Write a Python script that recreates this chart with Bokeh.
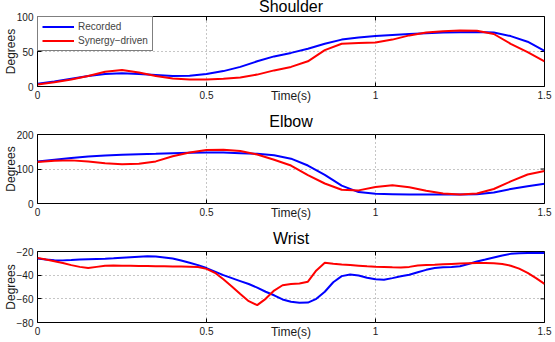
import math
from bokeh.plotting import figure
from bokeh.layouts import column
from bokeh.models import Range1d, FixedTicker, Legend, LegendItem
from bokeh.embed import file_html
from bokeh.resources import INLINE

# ---- joint angle trajectories (degrees) ----
time_a = [0.00, 0.05, 0.10, 0.15, 0.20, 0.25, 0.30, 0.35, 0.40, 0.45,
          0.50, 0.55, 0.60, 0.65, 0.70, 0.75, 0.80, 0.85, 0.90, 0.95,
          1.00, 1.05, 1.10, 1.15, 1.20, 1.25, 1.30, 1.35, 1.40, 1.45, 1.50]

shoulder_recorded = [4, 7, 11, 15, 18, 19, 18, 16.5, 15, 15.5,
                     18, 22, 28, 36, 43, 48, 54, 61, 67, 70,
                     72, 73.5, 75, 76, 77, 77.5, 78, 77, 72, 64, 51]
shoulder_synergy = [3, 6, 10, 15, 21, 23.5, 20, 15, 11.5, 10,
                    10, 11, 13, 17, 23, 28, 36, 52, 61, 62,
                    63, 67, 73, 77, 79, 80, 79.5, 75, 61, 49, 36]

elbow_recorded = [122, 127, 132, 136, 139, 141, 143, 144, 145.5, 147,
                  148, 147.5, 146, 144, 140, 130, 110, 83, 52, 33,
                  28, 27, 26, 26, 26, 26, 27, 32, 42, 50, 57]
elbow_synergy = [120, 124, 125, 122, 117, 114, 115, 122, 137, 148,
                 155, 156, 152, 142, 127, 110, 82, 58, 40, 38,
                 48, 53, 47, 37, 29, 26, 29, 42, 64, 84, 94]

time_b = [0.000, 0.025, 0.050, 0.075, 0.100, 0.125, 0.150, 0.175, 0.200, 0.225,
          0.250, 0.275, 0.300, 0.325, 0.350, 0.375, 0.400, 0.425, 0.450, 0.475,
          0.500, 0.525, 0.550, 0.575, 0.600, 0.625, 0.650, 0.675, 0.700, 0.725,
          0.750, 0.775, 0.800, 0.825, 0.850, 0.875, 0.900, 0.925, 0.950, 0.975,
          1.000, 1.025, 1.050, 1.075, 1.100, 1.125, 1.150, 1.175, 1.200, 1.225,
          1.250, 1.275, 1.300, 1.325, 1.350, 1.375, 1.400, 1.425, 1.450, 1.475,
          1.500]

wrist_recorded = [-26, -26.8, -27.3, -27.5, -27.2, -26.8, -26.5, -26.3, -26.2, -25.8,
                  -25.3, -24.8, -24.4, -24, -24.3, -25, -26, -27.6, -29.5, -31.5,
                  -34, -37, -40, -42.5, -45, -47.5, -50.5, -54, -57, -60.5,
                  -62.5, -63.4, -63.2, -60, -54, -46, -40.8, -39.5, -40.3, -42.2,
                  -43.5, -43.9, -42.5, -41, -39.7, -37.5, -35.5, -34, -33.3, -33,
                  -32.5, -30.5, -28.5, -26.8, -25, -23.3, -22, -21.5, -21.2, -21,
                  -21.3]
wrist_synergy = [-25.4, -26.8, -28.2, -29.8, -31.5, -33, -34, -33, -32, -31.8,
                 -32, -32.1, -32.2, -32.3, -32.4, -32.5, -32.6, -32.7, -32.9, -33.1,
                 -34.7, -38, -43.5, -49.5, -56, -62, -65.3, -60, -53, -48.5,
                 -47.5, -47, -45.5, -36, -29.5, -30.3, -31, -31.5, -32, -32.5,
                 -32.8, -33, -33.3, -33.5, -33, -31.8, -31.5, -31.2, -30.8, -30.5,
                 -30.2, -30, -29.8, -29.8, -30, -30.5, -32, -34.5, -38, -42.5,
                 -47.3]

# ---- axis ticks ----
x_ticks = [0, 0.5, 1, 1.5]
x_tick_labels = ["0", "0.5", "1", "1.5"]
shoulder_ticks = [0, 50, 100]
shoulder_tick_labels = ["0", "50", "100"]
elbow_ticks = [0, 100, 200]
elbow_tick_labels = ["0", "100", "200"]
wrist_ticks = [-80, -60, -40, -20]
wrist_tick_labels = ["\u221280", "\u221260", "\u221240", "\u221220"]

series_names = ["Recorded", "Synergy\u2212driven"]
series_colors = ["#0000ff", "#ff0000"]

FONT = "Liberation Sans"


def panel(height, top, bottom, y_lo, y_hi, yticks, ylabels, title,
          t, recorded, synergy, legend=False, margin=(0, 0, 0, 0),
          title_standoff=10):
    p = figure(width=555, height=height, output_backend="svg",
               toolbar_location=None, margin=margin,
               x_range=Range1d(0, 1.5), y_range=Range1d(y_lo, y_hi),
               min_border_left=37, min_border_right=11,
               min_border_top=top, min_border_bottom=bottom,
               background_fill_color="white", border_fill_color="white",
               outline_line_color="black", outline_line_width=1)

    p.title.text = title
    p.title.align = "center"
    p.title.text_font = FONT
    p.title.text_font_size = "16px"
    p.title.text_font_style = "normal"
    p.title.text_color = "black"
    p.title.standoff = title_standoff

    xa = p.xaxis[0]
    xa.ticker = FixedTicker(ticks=x_ticks)
    xa.major_label_overrides = dict(zip(x_ticks, x_tick_labels))
    xa.axis_label = "Time(s)"
    xa.axis_label_standoff = -13

    ya = p.yaxis[0]
    ya.ticker = FixedTicker(ticks=yticks)
    ya.major_label_overrides = dict(zip(yticks, ylabels))
    ya.axis_label = "Degrees"
    ya.axis_label_standoff = -4

    for ax in (xa, ya):
        ax.axis_line_color = None
        ax.major_tick_in = 4
        ax.major_tick_out = 0
        ax.major_tick_line_color = "black"
        ax.minor_tick_line_color = None
        ax.major_label_text_font = FONT
        ax.major_label_text_font_size = "10px"
        ax.major_label_text_color = "#1a1a1a"
        ax.major_label_standoff = 4
        ax.axis_label_text_font = FONT
        ax.axis_label_text_font_size = "12px"
        ax.axis_label_text_font_style = "normal"
        ax.axis_label_text_color = "#1a1a1a"

    p.xgrid.ticker = FixedTicker(ticks=x_ticks)
    p.ygrid.ticker = FixedTicker(ticks=yticks)
    for g in (p.xgrid, p.ygrid):
        g.grid_line_color = "#8c8c8c"
        g.grid_line_dash = "1 3"
        g.grid_line_width = 1

    # inward tick marks on the top and right edges of the box
    # (dashes centred on the edge; the frame clips their outer half)
    p.scatter(x_ticks, [y_hi] * len(x_ticks), marker="dash", size=8,
              angle=math.pi / 2, line_color="black", line_width=1)
    p.scatter([1.5] * len(yticks), yticks, marker="dash", size=8,
              line_color="black", line_width=1)

    r1 = p.line(t, recorded, line_color=series_colors[0], line_width=2)
    r2 = p.line(t, synergy, line_color=series_colors[1], line_width=2)

    if legend:
        lg = Legend(items=[LegendItem(label=series_names[0], renderers=[r1]),
                           LegendItem(label=series_names[1], renderers=[r2])],
                    location="top_left", margin=0, padding=4, spacing=3,
                    glyph_width=32, glyph_height=11, label_height=11,
                    label_standoff=4, label_text_font=FONT,
                    label_text_font_size="10px",
                    border_line_color="black", border_line_width=1,
                    background_fill_color="white", background_fill_alpha=1)
        p.add_layout(lg, "center")
    return p


# the first panel is pulled up so its frame starts near the top of the page
p1 = panel(118, 29, 18, 0, 100, shoulder_ticks, shoulder_tick_labels,
           "Shoulder", time_a, shoulder_recorded, shoulder_synergy,
           legend=True, margin=(-13, 0, 0, 0), title_standoff=3)
p2 = panel(117, 29, 18, 0, 200, elbow_ticks, elbow_tick_labels,
           "Elbow", time_a, elbow_recorded, elbow_synergy)
p3 = panel(120, 29, 20, -80, -20, wrist_ticks, wrist_tick_labels,
           "Wrist", time_b, wrist_recorded, wrist_synergy)

layout = column(p1, p2, p3, spacing=0)
open("out.html", "w").write(file_html(layout, INLINE))
